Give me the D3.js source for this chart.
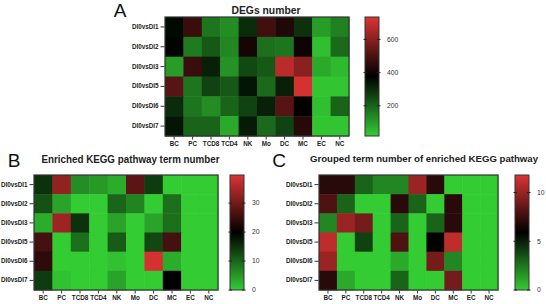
<!DOCTYPE html>
<html><head><meta charset="utf-8">
<script src="https://cdn.jsdelivr.net/npm/d3@7"></script>
<style>body{margin:0;background:#fff}svg{display:block;font-family:"Liberation Sans",Arial,sans-serif}</style>
</head><body><svg id="c" width="546" height="304"></svg>
<script>
const cells = ["BC","PC","TCD8","TCD4","NK","Mo","DC","MC","EC","NC"];
const comps = ["DI0vsDI1","DI0vsDI2","DI0vsDI3","DI0vsDI5","DI0vsDI6","DI0vsDI7"];

const degValues = [
  [360,470,170,130,300,480,430,290,100,150],
  [370,160,220,140,410,180,170,400, 40,190],
  [100,470,320,120,250,220,680,600, 80, 50],
  [520,170,260,220,340,190,320,720, 30, 30],
  [300,170,130,200,260,320,520,380, 40,200],
  [340,200,200, 80,330,190,260,440, 30, 30]
];
const keggValues = [
  [15,33, 6, 5, 3,28,14, 0,0,0],
  [12, 4, 0, 0,10, 7, 0, 9,0,0],
  [ 3,34,15, 0, 4, 0, 4, 9,0,0],
  [26, 0, 9, 0,11, 0,13,26,0,0],
  [24, 0, 0, 0, 1, 0,39, 3,0,0],
  [14, 1, 0, 0, 4, 0, 0,20,0,0]
];
const groupedValues = [
  [ 7, 7, 3, 2, 2,10, 7, 0,0,0],
  [ 8, 3, 0, 0, 7, 3, 0, 7,0,0],
  [ 2,10, 9, 0, 3, 0, 3, 7,0,0],
  [11, 0, 4, 0, 8, 0, 6,11,0,0],
  [10, 0, 0, 0, 1, 0, 9, 2,0,0],
  [ 7, 1, 0, 0, 3, 0, 0, 9,0,0]
];
const degTicks = [200,400,600];
const keggTicks = [0,10,20,30];
const groupedTicks = [0,5,10];
const degDomain = [18,735];
const keggDomain = [0,39.7];
const groupedDomain = [0,11.8];
const titles = ["DEGs number","Enriched KEGG pathway term number","Grouped term number of enriched KEGG pathway"];
const letters = ["A","B","C"];

const svg = d3.select("#c");
const lowC = "#33cc33", midC = "#000000", highC = "#dd3333";

function panel(o){
  const g = svg.append("g");
  const x = d3.scaleBand().domain(cells).range([o.x0,o.x1]);
  const y = d3.scaleBand().domain(comps).range([o.y0,o.y1]);
  const [d0,d1] = o.domain;
  const col = d3.scaleLinear().domain([d0,(d0+d1)/2,d1]).range([lowC,midC,highC]).clamp(true);
  o.values.forEach((row,i)=>row.forEach((v,j)=>{
    g.append("rect").attr("x",x(cells[j])).attr("y",y(comps[i]))
     .attr("width",x.bandwidth()+0.5).attr("height",y.bandwidth()+0.5).attr("fill",col(v));
  }));
  g.append("rect").attr("x",o.x0).attr("y",o.y0).attr("width",o.x1-o.x0).attr("height",o.y1-o.y0)
   .attr("fill","none").attr("stroke","#333").attr("stroke-width",1.2);
  const ya = d3.axisLeft(y).tickSize(4).tickPadding(2);
  const gy = g.append("g").attr("transform",`translate(${o.x0-0.5},0)`).call(ya);
  const xa = d3.axisBottom(x).tickSize(3).tickPadding(2);
  const gx = g.append("g").attr("transform",`translate(0,${o.y1+0.5})`).call(xa);
  [gy,gx].forEach(a=>{
    a.select(".domain").remove();
    a.selectAll("line").attr("stroke","#333");
    a.selectAll("text").attr("font-size",6.3).attr("font-weight","bold").attr("fill","#222")
      .attr("font-family","'Liberation Sans',Arial,sans-serif");
  });
  const id = "grad"+o.letter;
  const grad = svg.append("defs").append("linearGradient").attr("id",id)
    .attr("x1",0).attr("y1",1).attr("x2",0).attr("y2",0);
  grad.append("stop").attr("offset","0%").attr("stop-color",lowC);
  grad.append("stop").attr("offset","50%").attr("stop-color",midC);
  grad.append("stop").attr("offset","100%").attr("stop-color",highC);
  g.append("rect").attr("x",o.cbx).attr("y",o.y0).attr("width",o.cbw).attr("height",o.y1-o.y0)
   .attr("fill",`url(#${id})`).attr("stroke","#333").attr("stroke-width",1);
  const cs = d3.scaleLinear().domain(o.domain).range([o.y1,o.y0]);
  o.ticks.forEach(t=>{
    const ty = cs(t);
    g.append("line").attr("x1",o.cbx-1.5).attr("x2",o.cbx+2).attr("y1",ty).attr("y2",ty).attr("stroke","#222");
    g.append("line").attr("x1",o.cbx+o.cbw-2).attr("x2",o.cbx+o.cbw+1.5).attr("y1",ty).attr("y2",ty).attr("stroke","#222");
    g.append("text").attr("x",o.cbx+o.cbw+8).attr("y",ty).attr("dy","0.35em")
     .attr("font-size",6.8).attr("fill","#333").text(t);
  });
  g.append("text").attr("x",o.tx).attr("y",o.ty).attr("text-anchor","middle")
   .attr("font-size",o.tfs).attr("font-weight","bold").attr("fill","#222")
   .attr("textLength",o.tlen).attr("lengthAdjust","spacingAndGlyphs").text(o.title);
  g.append("text").attr("x",o.lx).attr("y",o.ly).attr("text-anchor","middle")
   .attr("font-size",19).attr("fill","#111").text(o.letter);
}

panel({x0:165,x1:349,y0:17,y1:136,values:degValues,domain:degDomain,ticks:degTicks,
  cbx:365,cbw:14,title:titles[0],tx:266,ty:14,tfs:11,tlen:69,letter:letters[0],lx:120,ly:17});
panel({x0:34,x1:218,y0:175,y1:290,values:keggValues,domain:keggDomain,ticks:keggTicks,
  cbx:230,cbw:14,title:titles[1],tx:130.5,ty:163,tfs:10.5,tlen:178,letter:letters[1],lx:14,ly:167});
panel({x0:319,x1:498,y0:175,y1:290,values:groupedValues,domain:groupedDomain,ticks:groupedTicks,
  cbx:515,cbw:14,title:titles[2],tx:424,ty:162,tfs:9.6,tlen:228,letter:letters[2],lx:279,ly:167});
</script></body></html>
